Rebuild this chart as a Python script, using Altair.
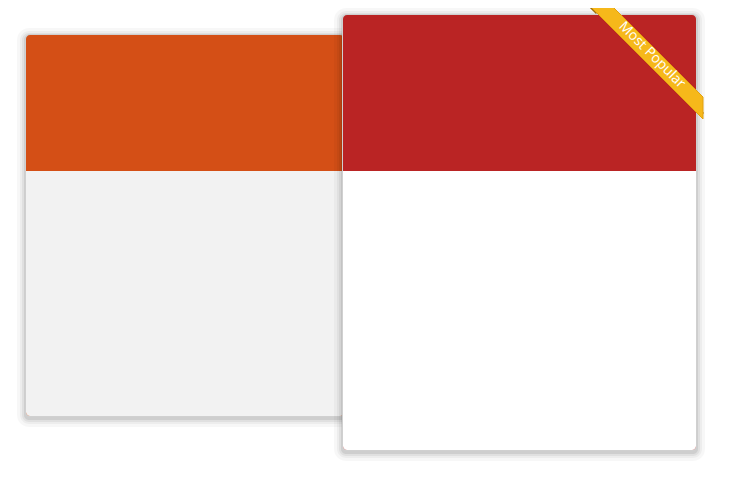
import pandas as pd
import altair as alt

# Cards: left (behind) and right ("Most Popular")
card_names = ["basic", "popular"]
card_x0 = [25, 342]
card_x1 = [345, 697]
card_top = [34, 14]
card_split = [171, 171]
card_bottom = [417, 451]
header_colors = ["#D44F16", "#BA2424"]
body_colors = ["#F2F2F2", "#FFFFFF"]

# Ribbon outline (corner band)
ribbon_x = [590, 612, 703]
ribbon_y = [6, 6, 97]
ribbon_y2 = [6, 28, 119]
ribbon_text = "Most Popular"

X = alt.Scale(domain=[8, 737], nice=False, zero=False)
Y = alt.Scale(domain=[8, 471], nice=False, zero=False, reverse=True)


def card_layers(i):
    d = pd.DataFrame({"x": [card_x0[i]], "x2": [card_x1[i]], "t": [card_top[i]],
                      "s": [card_split[i]], "b": [card_bottom[i]]})
    base = alt.Chart(d)
    shadows = []
    for k, op in [(8, 0.03), (5, 0.04), (3, 0.05), (1, 0.08)]:
        sd = d.assign(x=d.x - k, x2=d.x2 + k, t=d.t - k + 2, b=d.b + k + 2)
        shadows.append(alt.Chart(sd).mark_rect(color="black", opacity=op, cornerRadius=4 + k).encode(
            x=alt.X("x:Q", scale=X, axis=None), x2="x2", y=alt.Y("t:Q", scale=Y, axis=None), y2="b"))
    outer = base.mark_rect(color="#D0D0D0", cornerRadius=5).encode(
        x=alt.X("x:Q", scale=X, axis=None), x2="x2", y=alt.Y("t:Q", scale=Y, axis=None), y2="b")
    inner = alt.Chart(d.assign(x=d.x + 1, x2=d.x2 - 1, t=d.t + 1, b=d.b - 1))
    head = inner.mark_rect(color=header_colors[i], cornerRadius=4).encode(
        x=alt.X("x:Q", scale=X, axis=None), x2="x2", y=alt.Y("t:Q", scale=Y, axis=None), y2="b")
    body = inner.mark_rect(color=body_colors[i], cornerRadiusBottomLeft=4,
                           cornerRadiusBottomRight=4).encode(
        x=alt.X("x:Q", scale=X, axis=None), x2="x2", y=alt.Y("s:Q", scale=Y, axis=None), y2="b")
    return shadows + [outer, head, body]


layers = card_layers(0) + card_layers(1)

rib = pd.DataFrame({"x": ribbon_x, "y": ribbon_y, "y2": ribbon_y2})
folds = pd.DataFrame({"x": [590, 597, 697, 703], "y": [6, 13, 108, 114], "g": ["a", "a", "b", "b"]})
layers.append(alt.Chart(folds).mark_line(color="#A0700A", strokeWidth=3).encode(
    x=alt.X("x:Q", scale=X, axis=None), y=alt.Y("y:Q", scale=Y, axis=None), detail="g:N"))
layers.append(alt.Chart(rib).mark_area(color="#F6B81A", stroke="#E2A10E", strokeWidth=1).encode(
    x=alt.X("x:Q", scale=X, axis=None), y=alt.Y("y:Q", scale=Y, axis=None), y2="y2"))
txt = pd.DataFrame({"x": [652], "y": [55], "t": [ribbon_text]})
layers.append(alt.Chart(txt).mark_text(color="white", angle=45, fontSize=14, font="Open Sans",
                                       align="center", baseline="middle").encode(
    x=alt.X("x:Q", scale=X, axis=None), y=alt.Y("y:Q", scale=Y, axis=None), text="t:N"))

chart = alt.layer(*layers).properties(
    width=729, height=463, padding=0, autosize=alt.AutoSizeParams(type="none"),
    background="white"
).configure_view(stroke=None)

chart.save("out.html", embed_options={"renderer": "svg", "actions": False})
